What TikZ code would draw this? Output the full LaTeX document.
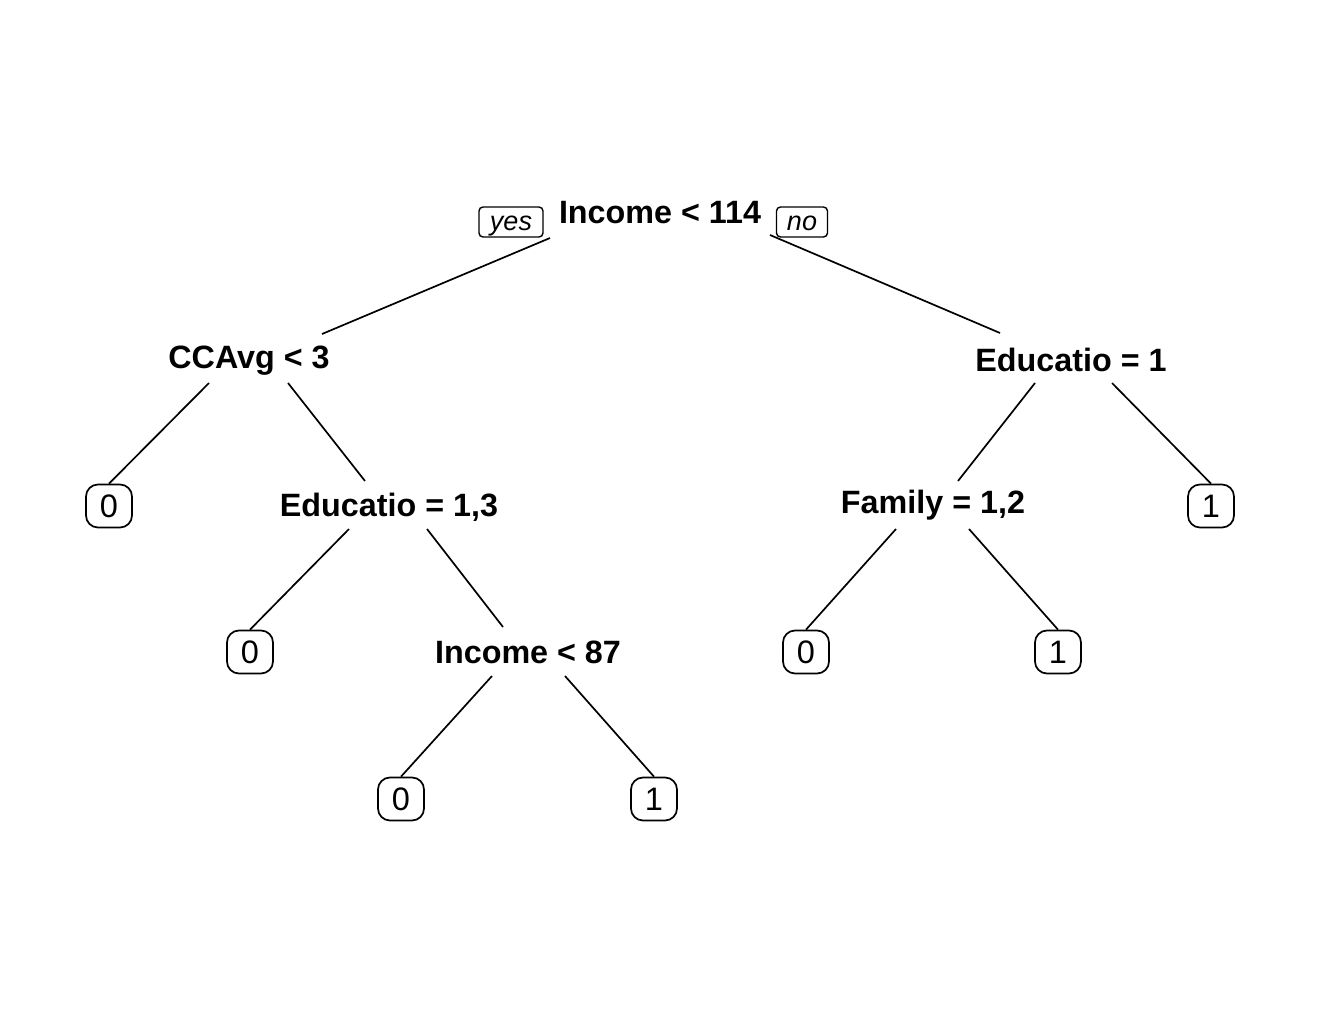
\documentclass[tikz,border=0pt]{standalone}
\usepackage{fontspec}
\setmainfont{Liberation Sans}
\usetikzlibrary{calc}
\begin{document}
\begin{tikzpicture}[x=1pt,y=-1pt,
  split/.style={inner sep=0pt, anchor=base, font=\fontsize{32.3}{36}\selectfont\bfseries},
  leaf/.style={draw, line width=1.7pt, rounded corners=12pt, minimum width=46pt, minimum height=43pt, inner sep=0pt, fill=white, font=\fontsize{32.5}{36}\selectfont},
  tag/.style={draw, line width=1.4pt, rounded corners=4pt, minimum height=30pt, text height=23pt, text depth=6pt, inner ysep=0.5pt, inner xsep=0pt, fill=white, font=\fontsize{27}{30}\selectfont\itshape},
  edge/.style={line width=1.7pt}]
\useasboundingbox (0,0) rectangle (1320,1014);
% split nodes
\node[split] (root) at (660,223) {Income < 114};
\node[split] (cc) at (249,368) {CCAvg < 3};
\node[split] (e1) at (1071,371) {Educatio = 1};
\node[split] (e13) at (389,516) {Educatio = 1,3};
\node[split] (fam) at (933,513) {Family = 1,2};
\node[split] (i87) at (528,663) {Income < 87};
% leaves
\node[leaf] (l1) at (109,506) {0};
\node[leaf] (l2) at (250,652) {0};
\node[leaf] (l3) at (401,799) {0};
\node[leaf] (l4) at (654,799) {1};
\node[leaf] (l5) at (806,652) {0};
\node[leaf] (l6) at (1058,652) {1};
\node[leaf] (l7) at (1211,506) {1};
% edges
\draw[edge] ($(root.base)+(-110,15)$) -- ($(cc.base)+(73,-34)$);
\draw[edge] ($(root.base)+(110,12)$) -- ($(e1.base)+(-71,-38)$);
\draw[edge] ($(cc.base)+(-40,15)$) -- (l1.north);
\draw[edge] ($(cc.base)+(39,15)$) -- ($(e13.base)+(-24,-35)$);
\draw[edge] ($(e13.base)+(-40,13)$) -- (l2.north);
\draw[edge] ($(e13.base)+(38,13)$) -- ($(i87.base)+(-25,-36)$);
\draw[edge] ($(i87.base)+(-36,13)$) -- (l3.north);
\draw[edge] ($(i87.base)+(37,13)$) -- (l4.north);
\draw[edge] ($(e1.base)+(-36,12)$) -- ($(fam.base)+(25,-32)$);
\draw[edge] ($(e1.base)+(41,12)$) -- (l7.north);
\draw[edge] ($(fam.base)+(-37,16)$) -- (l5.north);
\draw[edge] ($(fam.base)+(36,16)$) -- (l6.north);
% yes / no tags
\node[tag, minimum width=64pt] (yes) at (511,222) {yes};
\node[tag, minimum width=51pt] (no) at (802,222) {no};
\end{tikzpicture}
\end{document}
